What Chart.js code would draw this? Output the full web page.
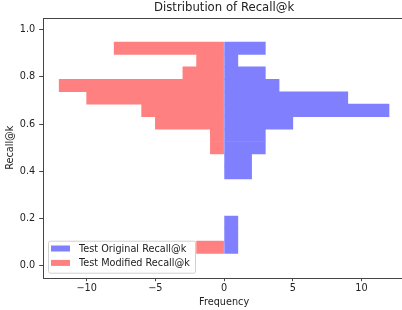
<!DOCTYPE html>
<html>
<head>
<meta charset="utf-8">
<script src="https://cdn.jsdelivr.net/npm/chart.js@4/dist/chart.umd.min.js"></script>
<style>
  html, body { margin: 0; padding: 0; background: #fff; overflow: hidden; }
  #wrap { width: 412px; height: 310px; }
</style>
</head>
<body>
<div id="wrap"><canvas id="histChart" width="412" height="310"></canvas></div>
<script>
// histogram bins: 19 equal bins between 0 and 1
const binCount = 19;
const binLow = 0;
const binHigh = 1;

// counts per bin, lowest bin first
const originalCounts = [0, 1, 1, 1, 0, 0, 0, 2, 2, 3, 3, 5, 12, 9, 4, 3, 1, 3, 0];
const modifiedCounts = [0, 2, 0, 0, 0, 0, 0, 0, 0, 1, 1, 5, 6, 10, 12, 3, 2, 8, 0];

const seriesLabels = ['Test Original Recall@k', 'Test Modified Recall@k'];
const xTicks = [-10, -5, 0, 5, 10];
const yTicks = [0, 0.2, 0.4, 0.6, 0.8, 1.0];

// 50% blue / red over white, kept opaque so stacked bins show no seams
const blue = '#8080ff';
const red = '#ff8080';
const font = "'DejaVu Sans', sans-serif";
const tickSize = 9.7;

const binWidth = (binHigh - binLow) / binCount;
const centers = originalCounts.map((_, i) => binLow + (i + 0.5) * binWidth);

// empty bins get no bar at all
const toPoints = (counts, sign) =>
    counts.map((c, i) => ({ x: c === 0 ? null : sign * c, y: centers[i] }));

const spines = {
    id: 'spines',
    afterDraw(chart) {
        const a = chart.chartArea;
        const ctx = chart.ctx;
        ctx.save();
        ctx.strokeStyle = '#444';
        ctx.lineWidth = 1;
        ctx.strokeRect(Math.round(a.left) + 0.5, Math.round(a.top) + 0.5,
            Math.round(a.right - a.left), Math.round(a.bottom - a.top));
        ctx.restore();
    }
};

// legend box in the lower left corner of the axes
const insideLegend = {
    id: 'insideLegend',
    afterDraw(chart) {
        const a = chart.chartArea;
        const ctx = chart.ctx;
        const x0 = a.left + 5.3, y1 = a.bottom - 5;
        const w = 147, h = 32;
        const y0 = y1 - h;
        ctx.save();
        ctx.beginPath();
        ctx.roundRect(x0 + 0.5, y0 + 0.5, w, h, 2);
        ctx.fillStyle = 'rgba(255,255,255,0.8)';
        ctx.fill();
        ctx.strokeStyle = '#d0d0d0';
        ctx.lineWidth = 1;
        ctx.stroke();
        ctx.font = tickSize + 'px ' + font;
        ctx.textBaseline = 'middle';
        chart.data.datasets.forEach((ds, i) => {
            const cy = y0 + 7.8 + i * 14.4;
            ctx.fillStyle = ds.backgroundColor;
            ctx.fillRect(x0 + 3, cy - 3, 19, 6);
            ctx.fillStyle = '#222';
            ctx.fillText(ds.label, x0 + 31, cy + 0.5);
        });
        ctx.restore();
    }
};

const ctx = document.getElementById('histChart').getContext('2d');
new Chart(ctx, {
    type: 'bar',
    data: {
        datasets: [{
            label: seriesLabels[0],
            data: toPoints(originalCounts, 1),
            backgroundColor: blue,
            borderWidth: 0,
            grouped: false,
            barPercentage: 1,
            categoryPercentage: 1
        }, {
            label: seriesLabels[1],
            data: toPoints(modifiedCounts, -1),
            backgroundColor: red,
            borderWidth: 0,
            grouped: false,
            barPercentage: 1,
            categoryPercentage: 1
        }]
    },
    options: {
        indexAxis: 'y',
        responsive: false,
        animation: false,
        layout: { padding: { left: 0, right: 6.5, top: 0, bottom: 0 } },
        plugins: {
            legend: { display: false },
            tooltip: { enabled: false },
            title: {
                display: true,
                text: 'Distribution of Recall@k',
                fullSize: false,
                color: '#222',
                font: { family: font, size: 11.7, weight: 'normal' },
                padding: { top: 1, bottom: 2.7 }
            }
        },
        scales: {
            x: {
                type: 'linear',
                min: -13.2,
                max: 13.2,
                offset: false,
                afterFit: s => { s.height = 32.3; },
                afterBuildTicks: s => { s.ticks = xTicks.map(v => ({ value: v })); },
                grid: { display: true, offset: false, drawOnChartArea: false, drawTicks: true, tickLength: 3.5, color: '#444' },
                border: { display: false },
                ticks: {
                    color: '#222',
                    font: { family: font, size: tickSize },
                    padding: 1.5,
                    maxRotation: 0,
                    callback: v => v < 0 ? '\u2212' + Math.abs(v) : String(v)
                },
                title: {
                    display: true,
                    text: 'Frequency',
                    color: '#222',
                    font: { family: font, size: tickSize },
                    padding: { top: 0, bottom: 2.2 }
                }
            },
            y: {
                type: 'linear',
                min: -0.05,
                max: 1.05,
                offset: false,
                afterFit: s => { s.width = 42.7; },
                afterBuildTicks: s => { s.ticks = yTicks.map(v => ({ value: v })); },
                grid: { display: true, offset: false, drawOnChartArea: false, drawTicks: true, tickLength: 3.5, color: '#444' },
                border: { display: false },
                ticks: {
                    color: '#222',
                    font: { family: font, size: tickSize },
                    padding: 4,
                    callback: v => v.toFixed(1)
                },
                title: {
                    display: true,
                    text: 'Recall@k',
                    color: '#222',
                    font: { family: font, size: tickSize },
                    padding: { top: 4.7, bottom: 0 }
                }
            }
        }
    },
    plugins: [spines, insideLegend]
});
</script>
</body>
</html>
